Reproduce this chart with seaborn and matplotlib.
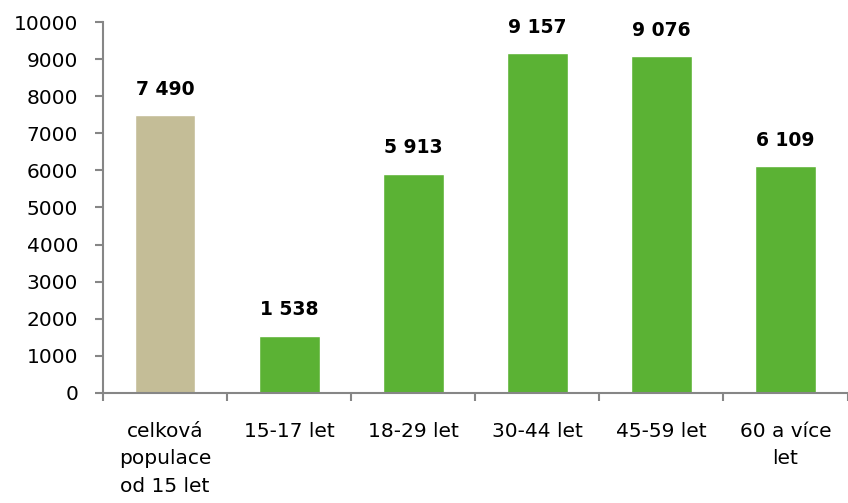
import matplotlib
matplotlib.use('Agg')
import matplotlib.pyplot as plt
import seaborn as sns
import pandas as pd

# data
kategorie = ['celková\npopulace\nod 15 let', '15-17 let', '18-29 let', '30-44 let', '45-59 let', '60 a více\nlet']
hodnoty = [7490, 1538, 5913, 9157, 9076, 6109]
barvy = ['#C4BD97', '#5BB234', '#5BB234', '#5BB234', '#5BB234', '#5BB234']
y_ticks = [0, 1000, 2000, 3000, 4000, 5000, 6000, 7000, 8000, 9000, 10000]

df = pd.DataFrame({'kategorie': kategorie, 'hodnota': hodnoty})

sns.set_style('white')
plt.rcParams['font.family'] = ['DejaVu Sans']

fig = plt.figure(figsize=(8.48, 5.03), dpi=100)
ax = fig.add_axes([0.1215, 0.219, 0.878, 0.737])

sns.barplot(data=df, x='kategorie', y='hodnota', hue='kategorie', palette=barvy,
            legend=False, width=0.49, saturation=1, ax=ax)

# popisky hodnot nad sloupci
for i, v in enumerate(hodnoty):
    txt = f'{v:,}'.replace(',', ' ')
    ax.annotate(txt, (i, v), xytext=(0, 12), textcoords='offset points',
                ha='center', va='bottom', fontsize=13.5, fontweight='bold', color='black')

ax.set_xlim(-0.5, 5.5)
ax.set_ylim(0, 10000)
ax.set_yticks(y_ticks)
ax.set_xlabel('')
ax.set_ylabel('')

gray = '#868686'
for s in ['top', 'right']:
    ax.spines[s].set_visible(False)
for s in ['left', 'bottom']:
    ax.spines[s].set_color(gray)
    ax.spines[s].set_linewidth(1.5)

ax.tick_params(axis='y', which='major', length=6, width=1.5, color=gray,
               labelsize=14.5, labelcolor='black', pad=12, left=True)
ax.set_xticks([x - 0.5 for x in range(7)], minor=True)
ax.tick_params(axis='x', which='minor', length=6, width=1.5, color=gray, bottom=True)
ax.tick_params(axis='x', which='major', length=0, labelsize=14.5, labelcolor='black', pad=21)
for lbl in ax.get_xticklabels():
    lbl.set_linespacing(1.55)

fig.savefig('out.png', dpi=100)
